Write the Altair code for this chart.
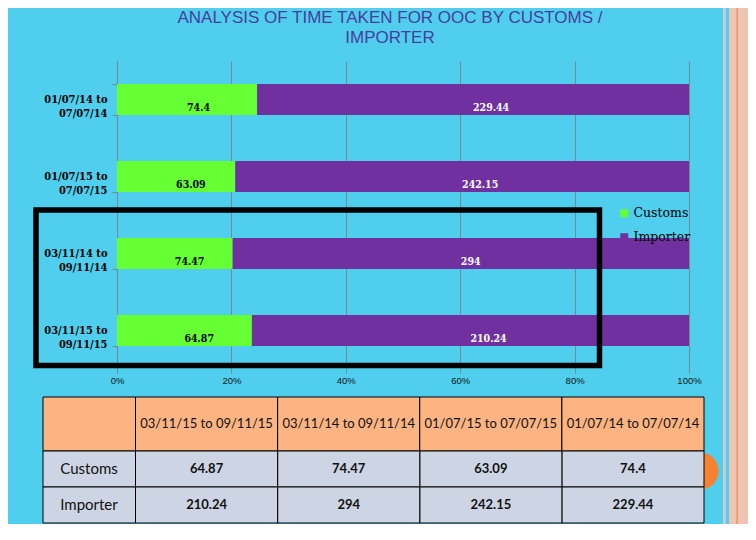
import altair as alt
import pandas as pd

# ---------------- data ----------------
periods = ["01/07/14 to 07/07/14", "01/07/15 to 07/07/15",
           "03/11/14 to 09/11/14", "03/11/15 to 09/11/15"]
customs = [74.4, 63.09, 74.47, 64.87]
importer = [229.44, 242.15, 294, 210.24]
series = ["Customs", "Importer"]
table_periods = ["03/11/15 to 09/11/15", "03/11/14 to 09/11/14",
                 "01/07/15 to 07/07/15", "01/07/14 to 07/07/14"]
title_lines = ["ANALYSIS OF TIME TAKEN FOR OOC BY CUSTOMS /", "IMPORTER"]
x_ticks = [0, 0.2, 0.4, 0.6, 0.8, 1.0]

rows = []
for p, c, i in zip(periods, customs, importer):
    rows.append({"period": p, "type": "Customs", "value": c, "label": f"{c:g}"})
    rows.append({"period": p, "type": "Importer", "value": i, "label": f"{i:g}"})
df = pd.DataFrame(rows)
hdr = pd.DataFrame({"period": table_periods})
rowhdr = pd.DataFrame({"type": series})
one = pd.DataFrame({"k": [0]})

# ---------------- styles ----------------
BG = "#4FCFED"
GREEN = "#66FF33"
PURPLE = "#7030A0"
GRID = "#758A98"
SERIF = "DejaVu Serif Condensed, DejaVu Serif, serif"
SANS = "Liberation Sans, Arial, sans-serif"
TFONT = "Lato, Open Sans, sans-serif"
W, H = 572, 308

xs = alt.Scale(domain=[0, 1], nice=False)
ys = alt.Scale(domain=periods, paddingInner=0.6, paddingOuter=0.3)

# ---------------- decorations ----------------
stripe_gray = alt.Chart(one).mark_rect(fill="#C8CAD2").encode(
    x=alt.value(606), x2=alt.value(609), y=alt.value(-53), y2=alt.value(463))
stripe_peach = alt.Chart(one).mark_rect(fill="#EEC5B2").encode(
    x=alt.value(612), x2=alt.value(640), y=alt.value(-53), y2=alt.value(463))
stripe_orange = alt.Chart(one).mark_rect(fill="#EE8D55").encode(
    x=alt.value(619.5), x2=alt.value(620.8), y=alt.value(-53), y2=alt.value(463))
circle = alt.Chart(one).mark_circle(color="#F8812F", opacity=1, size=1385).encode(
    x=alt.value(583), y=alt.value(410))
title = alt.Chart(one).mark_text(
    text=title_lines, font=SANS, fontSize=17, color="#4A3C9E",
    align="center", baseline="alphabetic", lineHeight=20,
).encode(x=alt.value(273), y=alt.value(-38.5))

# ---------------- bar chart ----------------
bars = alt.Chart(df).mark_bar().encode(
    x=alt.X("value:Q", stack="normalize", scale=xs,
            axis=alt.Axis(values=x_ticks, format="%", title=None, grid=True,
                          gridColor=GRID, gridWidth=1, domain=False,
                          tickColor=GRID, tickSize=4, labelPadding=2, labelFlush=False,
                          labelFont=SANS, labelFontSize=9.5, labelColor="#111111")),
    y=alt.Y("period:N", scale=ys,
            axis=alt.Axis(title=None, tickBand="extent", domainColor=GRID,
                          tickColor=GRID, tickSize=5, labelPadding=5,
                          labelExpr="isValid(datum.value) ? [substring(datum.value, 0, 11), substring(datum.value, 12)] : ''",
                          labelFont=SERIF, labelFontWeight="bold", labelFontSize=11,
                          labelLineHeight=14, labelColor="black")),
    color=alt.Color("type:N", scale=alt.Scale(domain=series, range=[GREEN, PURPLE]),
                    legend=alt.Legend(orient="none", legendX=501, legendY=146, title=None,
                                      symbolType="square", symbolSize=64,
                                      symbolStrokeWidth=0, labelFont="DejaVu Serif, serif",
                                      labelFontSize=12.5, labelColor="black",
                                      rowPadding=11, labelOffset=3, padding=0)),
    order=alt.Order("type:N", sort="ascending"),
)

labels = alt.Chart(df).transform_joinaggregate(
    total="sum(value)", groupby=["period"]
).transform_window(
    cum="sum(value)", groupby=["period"], sort=[alt.SortField("type")]
).transform_calculate(
    mid="(datum.cum - datum.value / 2) / datum.total"
).mark_text(align="left", baseline="middle", dy=8.5, font=SERIF,
            fontWeight="bold", fontSize=10.5).encode(
    x=alt.X("mid:Q", scale=xs),
    y=alt.Y("period:N", scale=ys),
    text="label:N",
    color=alt.condition("datum.type == 'Customs'", alt.value("black"), alt.value("white")),
)

highlight = alt.Chart(one).mark_rect(fillOpacity=0, stroke="black", strokeWidth=5.5).encode(
    x=alt.value(-81), x2=alt.value(482.5), y=alt.value(149), y2=alt.value(304.5))

main = alt.layer(stripe_gray, stripe_peach, stripe_orange, circle, title,
                 bars, labels, highlight)

# ---------------- table ----------------
tx = alt.Scale(domain=table_periods, range=[18.5, 587], paddingInner=0, paddingOuter=0)
ty = alt.Scale(domain=series, range=[390, 462], paddingInner=0, paddingOuter=0)
PEACH = "#FBB482"
CELL = "#CDD5E4"
INK = "#111111"

corner = alt.Chart(one).mark_rect(fill=PEACH, stroke="black", strokeWidth=1).encode(
    x=alt.value(-74), x2=alt.value(18.5), y=alt.value(336), y2=alt.value(390))
hdr_cells = alt.Chart(hdr).mark_rect(fill=PEACH, stroke="black", strokeWidth=1).encode(
    x=alt.X("period:N", scale=tx, axis=None), y=alt.value(336), y2=alt.value(390))
hdr_text = alt.Chart(hdr).mark_text(font=TFONT, fontSize=13, color=INK,
                                    baseline="middle").encode(
    x=alt.X("period:N", scale=tx, axis=None), y=alt.value(363), text="period:N")
row_cells = alt.Chart(rowhdr).mark_rect(fill=CELL, stroke="black", strokeWidth=1).encode(
    x=alt.value(-74), x2=alt.value(18.5), y=alt.Y("type:N", scale=ty, axis=None))
row_text = alt.Chart(rowhdr).mark_text(font=TFONT, fontSize=15, color=INK,
                                       baseline="middle").encode(
    x=alt.value(-28), y=alt.Y("type:N", scale=ty, axis=None), text="type:N")
body_cells = alt.Chart(df).mark_rect(fill=CELL, stroke="black", strokeWidth=1).encode(
    x=alt.X("period:N", scale=tx, axis=None), y=alt.Y("type:N", scale=ty, axis=None))
body_text = alt.Chart(df).mark_text(font=TFONT, fontSize=13, fontWeight="bold",
                                    color=INK, baseline="middle").encode(
    x=alt.X("period:N", scale=tx, axis=None), y=alt.Y("type:N", scale=ty, axis=None),
    text="label:N")

table = alt.layer(corner, hdr_cells, hdr_text, row_cells, row_text, body_cells, body_text)

chart = alt.layer(main, table).resolve_scale(
    x="independent", y="independent"
).properties(
    width=W, height=H,
    autosize="none",
    padding={"left": 109, "top": 53, "right": 59, "bottom": 155},
    background=BG,
).configure_view(stroke=None)

chart.save("out.html", embed_options={"renderer": "svg", "actions": False})
